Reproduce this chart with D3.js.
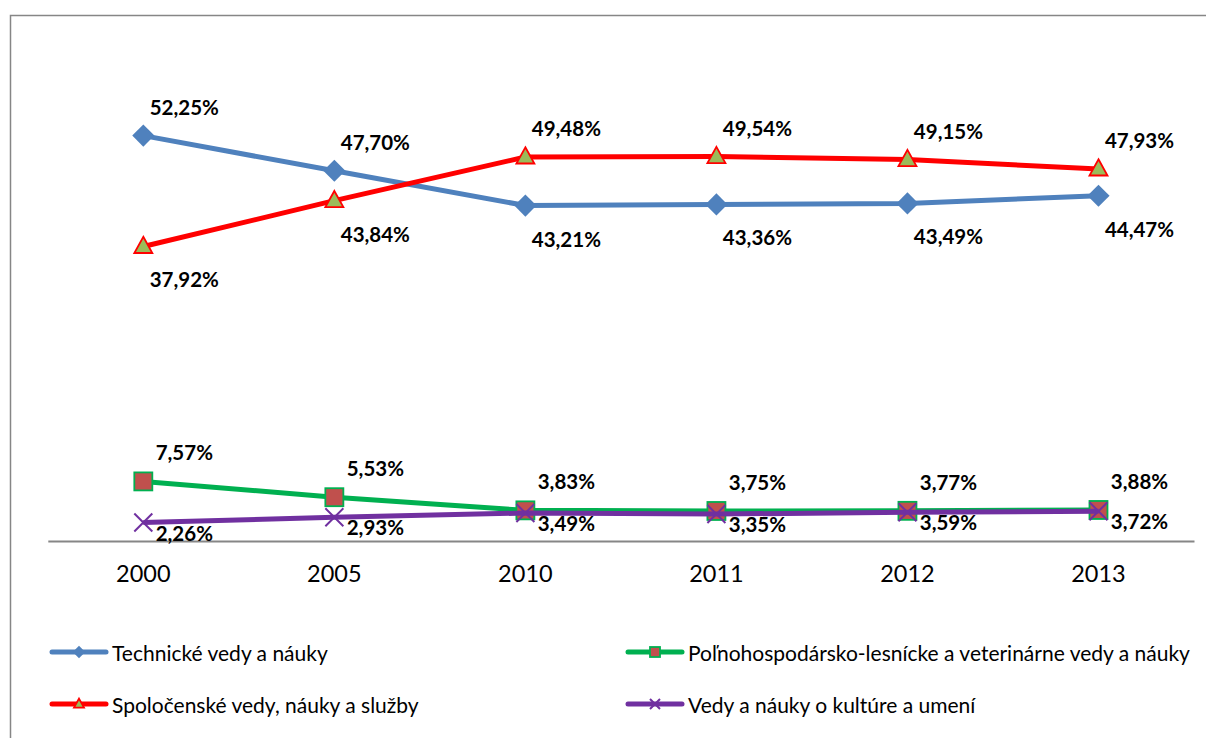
<!DOCTYPE html>
<html>
<head>
<meta charset="utf-8">
<script src="https://cdn.jsdelivr.net/npm/d3@7"></script>
<style>
  body { margin: 0; background: #fff; }
  svg text { font-family: Lato, "Open Sans", sans-serif; fill: #000; }
  .val { font-weight: bold; font-size: 20.5px; }
  .tick-lbl { font-size: 23.5px; }
  .leg { font-size: 21px; }
</style>
</head>
<body>
<svg id="chart" width="1206" height="738"></svg>
<script>
const years = ["2000", "2005", "2010", "2011", "2012", "2013"];

const technicke = [52.25, 47.70, 43.21, 43.36, 43.49, 44.47];
const polnohosp = [7.57, 5.53, 3.83, 3.75, 3.77, 3.88];
const spolocenske = [37.92, 43.84, 49.48, 49.54, 49.15, 47.93];
const kultura = [2.26, 2.93, 3.49, 3.35, 3.59, 3.72];

const seriesNames = [
  "Technické vedy a náuky",
  "Poľnohospodársko-lesnícke a veterinárne vedy a náuky",
  "Spoločenské vedy, náuky a služby",
  "Vedy a náuky o kultúre a umení"
];

// where each value label sits relative to its point
const labelSide = {
  0: ["t", "t", "b", "b", "b", "b"],
  1: ["t", "t", "t", "t", "t", "t"],
  2: ["b", "b", "t", "t", "t", "t"],
  3: ["r", "r", "r", "r", "r", "r"]
};

const styles = [
  { line: "#4F81BD", marker: "diamond", fill: "#4F81BD", stroke: "#4F81BD" },
  { line: "#00B050", marker: "square", fill: "#C0504D", stroke: "#00B050" },
  { line: "#FF0000", marker: "triangle", fill: "#9BBB59", stroke: "#FF0000" },
  { line: "#7030A0", marker: "x", fill: "none", stroke: "#7030A0" }
];

const allValues = [technicke, polnohosp, spolocenske, kultura];

const svg = d3.select("#chart");

// outer chart border
svg.append("rect")
  .attr("x", 10.5).attr("y", 15.5)
  .attr("width", 1220).attr("height", 740)
  .attr("fill", "none")
  .attr("stroke", "#868686")
  .attr("stroke-width", 1.5);

const x = d3.scaleBand().domain(years).range([47.8, 1194]);
const y = d3.scaleLinear().domain([0, 60]).range([540, 75.6]);
const cx = d => x(d) + x.bandwidth() / 2;

// category axis
const xAxis = svg.append("g")
  .attr("transform", "translate(0,541)")
  .call(d3.axisBottom(x).tickSize(0).tickPadding(24));
xAxis.select(".domain").attr("stroke", "#868686").attr("stroke-width", 2);
xAxis.selectAll("text").attr("class", "tick-lbl").attr("font-family", null).attr("font-size", null);

const line = d3.line().x((d, i) => cx(years[i])).y(d => y(d));

function drawMarker(g, kind, st, size) {
  if (kind === "diamond") {
    g.append("path").attr("d", d3.symbol(d3.symbolDiamond2, size * size * 0.5)())
      .attr("fill", st.fill);
  } else if (kind === "square") {
    g.append("rect").attr("x", -size / 2).attr("y", -size / 2)
      .attr("width", size).attr("height", size)
      .attr("fill", st.fill).attr("stroke", st.stroke).attr("stroke-width", 1.8);
  } else if (kind === "triangle") {
    const h = size * 0.9;
    g.append("path")
      .attr("d", `M0,${-h * 0.6}L${size / 2},${h * 0.4}L${-size / 2},${h * 0.4}Z`)
      .attr("fill", st.fill).attr("stroke", st.stroke).attr("stroke-width", 1.8);
  } else {
    const s = size / 2;
    g.append("path")
      .attr("d", `M${-s},${-s}L${s},${s}M${-s},${s}L${s},${-s}`)
      .attr("fill", "none").attr("stroke", st.stroke).attr("stroke-width", 2);
  }
}

allValues.forEach((vals, si) => {
  const st = styles[si];
  const g = svg.append("g");
  g.append("path").datum(vals)
    .attr("d", line)
    .attr("fill", "none")
    .attr("stroke", st.line)
    .attr("stroke-width", 5)
    .attr("stroke-linejoin", "round");
  vals.forEach((v, i) => {
    const m = g.append("g").attr("transform", `translate(${cx(years[i])},${y(v)})`);
    drawMarker(m, st.marker, st, st.marker === "diamond" ? 25 : 18);
  });
});

// value labels on top
allValues.forEach((vals, si) => {
  vals.forEach((v, i) => {
    const side = labelSide[si][i];
    const dy = side === "t" ? -29 : side === "b" ? 33 : 10;
    svg.append("text")
      .attr("class", "val")
      .attr("x", cx(years[i]) + 41)
      .attr("y", y(v) + dy)
      .attr("text-anchor", "middle")
      .attr("dominant-baseline", "central")
      .text(d3.format(".2f")(v).replace(".", ",") + "%");
  });
});

// legend
const legendPos = [[50, 652], [626, 652], [50, 704], [626, 704]];
seriesNames.forEach((name, si) => {
  const st = styles[si];
  const g = svg.append("g").attr("transform", `translate(${legendPos[si][0]},${legendPos[si][1]})`);
  g.append("line").attr("x1", 2).attr("x2", 56).attr("y1", 0).attr("y2", 0)
    .attr("stroke", st.line).attr("stroke-width", 5).attr("stroke-linecap", "round");
  const m = g.append("g").attr("transform", "translate(29,0)");
  drawMarker(m, st.marker, st, st.marker === "diamond" ? 14 : 10);
  g.append("text").attr("class", "leg")
    .attr("x", 62).attr("y", 0)
    .attr("dominant-baseline", "central")
    .text(name);
});
</script>
</body>
</html>
